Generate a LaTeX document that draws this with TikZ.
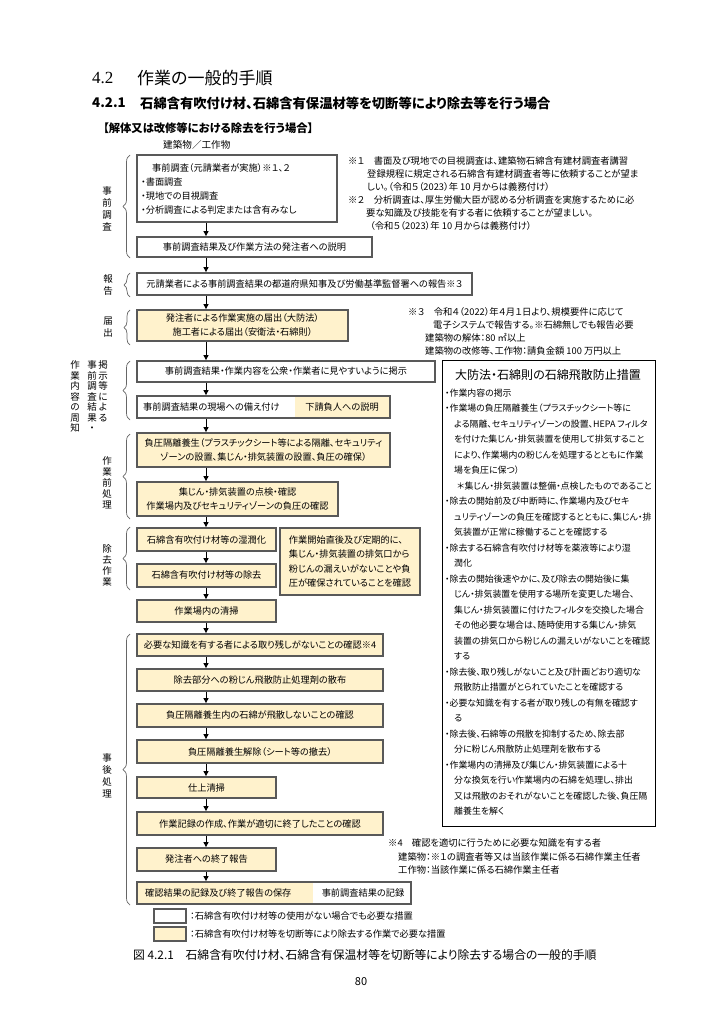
\documentclass[tikz,border=0pt]{standalone}
\usepackage{fontspec}
\setmainfont{Noto Sans CJK JP}[RawFeature=+palt]
\newfontfamily\serifnum{Liberation Serif}
\usetikzlibrary{arrows.meta,decorations.pathreplacing}
\definecolor{yfill}{RGB}{255,242,204}
\definecolor{bord}{RGB}{89,89,89}
\newcommand\bx[7]{\pgfmathsetmacro\bxw{#5-#3}\pgfmathsetmacro\bxh{#6-#4}%
  \node[#2, minimum width=\bxw pt, minimum height=\bxh pt] (#1) at ({(#3+#5)/2},{(#4+#6)/2}) {#7};}
\begin{document}
\begin{tikzpicture}[x=1pt,y=-1pt,font=\fontsize{9.2}{12}\selectfont,
  box/.style={draw=bord, line width=1.8pt, inner sep=0pt, align=center, fill=white, font=\fontsize{9.2}{14}\selectfont},
  ybox/.style={box, fill=yfill},
  obox/.style={draw=bord, line width=1.8pt, inner sep=0pt},
  arr/.style={-{Triangle[length=5pt,width=5pt]}, line width=0.9pt},
  brc/.style={decorate, decoration={brace, amplitude=#1}, draw=black!60, line width=0.7pt},
  brc/.default=7pt,
  lbl/.style={inner sep=0pt, align=center, font=\fontsize{9.5}{12}\selectfont},
  lbs/.style={inner sep=0pt, align=center, font=\fontsize{9.5}{10.5}\selectfont},
  t/.style={inner sep=0pt, anchor=west},
  fn/.style={t, font=\fontsize{9.3}{12}\selectfont}]
\useasboundingbox (0,0) rectangle (724,1024);
\fill[white] (0,0) rectangle (724,1024);
% headings
\node[t, font=\fontsize{17}{17}\selectfont] (h1n) at (92,78) {\serifnum 4.2};
\node[t, font=\fontsize{17}{17}\selectfont] (h1) at (137,78) {作業の一般的手順};
\node[t, font=\bfseries\fontsize{13.3}{13}\selectfont] (h2n) at (92,103) {4.2.1};
\node[t, font=\bfseries\fontsize{13.3}{13}\selectfont] (h2) at (140,103) {石綿含有吹付け材、石綿含有保温材等を切断等により除去等を行う場合};
\node[t, font=\bfseries\fontsize{11.3}{12}\selectfont] (h3) at (103,128) {【解体又は改修等における除去を行う場合】};
\node[t, font=\fontsize{9.6}{12}\selectfont] (top) at (163,145) {建築物／工作物};
\coordinate (ax) at (206,0);
% boxes
\bx{b1}{box}{137}{155}{337}{222}{}
\node[t] (b1a) at (152,168) {事前調査（元請業者が実施）※１、２};
\node[t] (b1b) at (141,182) {・書面調査};
\node[t] (b1c) at (141,196) {・現地での目視調査};
\node[t] (b1d) at (141,210.5) {・分析調査による判定または含有みなし};
\bx{b2}{box}{137}{237}{372}{257}{事前調査結果及び作業方法の発注者への説明}
\bx{b3}{box}{137}{273}{472}{295}{元請業者による事前調査結果の都道府県知事及び労働基準監督署への報告※３}
\bx{b4}{ybox}{137}{310}{348}{341}{発注者による作業実施の届出（大防法）\\施工者による届出（安衛法・石綿則）}
\bx{b5}{box}{137}{361}{435}{382}{事前調査結果・作業内容を公衆・作業者に見やすいように掲示}
\fill[white] (137,396) rectangle (295,418);
\fill[yfill] (295,396) rectangle (390,418);
\bx{b6}{obox}{137}{396}{390}{418}{}
\node[t] (b6a) at (143,407) {事前調査結果の現場への備え付け};
\node[inner sep=0pt] (b6b) at (342,407) {下請負人への説明};
\bx{b7}{ybox}{137}{433}{390}{467}{負圧隔離養生（プラスチックシート等による隔離、セキュリティ\\ゾーンの設置、集じん・排気装置の設置、負圧の確保）}
\bx{b8}{ybox}{137}{482}{338}{516}{集じん・排気装置の点検・確認\\作業場内及びセキュリティゾーンの負圧の確認}
\bx{b9}{ybox}{137}{528}{276}{551}{石綿含有吹付け材等の湿潤化}
\bx{b10}{ybox}{137}{564}{276}{587}{石綿含有吹付け材等の除去}
\bx{bs}{ybox, align=left, font=\fontsize{9.2}{14.5}\selectfont}{280}{528}{420}{595}{作業開始直後及び定期的に、\\集じん・排気装置の排気口から\\粉じんの漏えいがないことや負\\圧が確保されていることを確認}
\bx{b11}{ybox}{137}{600}{276}{622}{作業場内の清掃}
\bx{b12}{ybox}{137}{634}{383}{656}{必要な知識を有する者による取り残しがないことの確認※4}
\bx{b13}{ybox}{137}{669}{383}{691}{除去部分への粉じん飛散防止処理剤の散布}
\bx{b14}{ybox}{137}{704}{383}{727}{負圧隔離養生内の石綿が飛散しないことの確認}
\bx{b15}{ybox}{137}{740}{383}{763}{負圧隔離養生解除（シート等の撤去）}
\bx{b16}{ybox}{137}{777}{276}{798}{仕上清掃}
\bx{b17}{ybox}{137}{812}{383}{835}{作業記録の作成、作業が適切に終了したことの確認}
\bx{b18}{ybox}{137}{848}{276}{871}{発注者への終了報告}
\fill[yfill] (137,882) rectangle (313,904);
\fill[white] (313,882) rectangle (411,904);
\bx{b19}{obox}{137}{882}{411}{904}{}
\node[t] (b19a) at (145,893) {確認結果の記録及び終了報告の保存};
\node[inner sep=0pt] (b19b) at (363,893) {事前調査結果の記録};
% arrows
\foreach \a/\b in {b1/b2,b2/b3,b3/b4,b4/b5,b5/b6,b6/b7,b7/b8,b8/b9,b9/b10,b10/b11,b11/b12,b12/b13,b13/b14,b14/b15,b15/b16,b16/b17,b17/b18,b18/b19}
  \draw[arr] (\a.south -| ax) -- (\b.north -| ax);
% braces and labels
\draw[brc] (130,258) -- (130,155);
\node[lbl] (l1) at (107,209) {事\\前\\調\\査};
\draw[brc=6pt] (130,297) -- (130,273);
\node[lbl] (l2) at (108,285) {報\\告};
\draw[brc=6pt] (130,345) -- (130,310);
\node[lbl] (l3) at (108,327) {届\\出};
\draw[brc] (130,420) -- (130,361);
\node[lbs] (l4a) at (103,391) {掲\\示\\等\\に\\よ\\る};
\node[lbs] (l4b) at (92,396.5) {事\\前\\調\\査\\結\\果\\・};
\node[lbs] (l4c) at (75,396.5) {作\\業\\内\\容\\の\\周\\知};
\draw[brc] (130,519) -- (130,434);
\node[lbs, font=\fontsize{9.5}{11}\selectfont] (l5) at (107,483) {作\\業\\前\\処\\理};
\draw[brc] (130,590) -- (130,527);
\node[lbs, font=\fontsize{9.5}{11}\selectfont] (l6) at (107,565) {除\\去\\作\\業};
\draw[brc] (130,905) -- (130,634);
\node[lbl] (l7) at (107,776) {事\\後\\処\\理};
% footnotes
\node[fn] (n1a) at (348,161) {※１　書面及び現地での目視調査は、建築物石綿含有建材調査者講習};
\node[fn] (n1b) at (367,173.5) {登録規程に規定される石綿含有建材調査者等に依頼することが望ま};
\node[fn] (n1c) at (367,186.5) {しい。（令和５（2023）年 10 月からは義務付け）};
\node[fn] (n2a) at (348,199.5) {※２　分析調査は、厚生労働大臣が認める分析調査を実施するために必};
\node[fn] (n2b) at (366,212.5) {要な知識及び技能を有する者に依頼することが望ましい。};
\node[fn] (n2c) at (370,226) {（令和５（2023）年 10 月からは義務付け）};
\node[fn] (n3a) at (408,312) {※３　令和４（2022）年４月１日より、規模要件に応じて};
\node[fn] (n3b) at (433,325) {電子システムで報告する。※石綿無しでも報告必要};
\node[fn] (n3c) at (425,338) {建築物の解体：80 ㎡以上};
\node[fn] (n3d) at (425,351) {建築物の改修等、工作物：請負金額 100 万円以上};
\node[fn] (n4a) at (388,843) {※4　確認を適切に行うために必要な知識を有する者};
\node[fn] (n4b) at (398,857) {建築物：※１の調査者等又は当該作業に係る石綿作業主任者};
\node[fn] (n4c) at (398,870) {工作物：当該作業に係る石綿作業主任者};
% right box
\bx{rb}{draw=black, line width=0.8pt, inner sep=0pt}{442}{360}{655}{826}{}
\node[inner sep=0pt, font=\fontsize{12}{12}\selectfont] (rbt) at (548,375) {大防法・石綿則の石綿飛散防止措置};
\foreach \dx/\tx [count=\i from 0] in {
 0/・作業内容の掲示,
 0/・作業場の負圧隔離養生（プラスチックシート等に,
 9/よる隔離、セキュリティゾーンの設置、HEPA フィルタ,
 9/を付けた集じん・排気装置を使用して排気すること,
 9/により、作業場内の粉じんを処理するとともに作業,
 9/場を負圧に保つ）,
 12/＊集じん・排気装置は整備・点検したものであること,
 0/・除去の開始前及び中断時に、作業場内及びセキ,
 9/ュリティゾーンの負圧を確認するとともに、集じん・排,
 9/気装置が正常に稼働することを確認する,
 0/・除去する石綿含有吹付け材等を薬液等により湿,
 9/潤化,
 0/・除去の開始後速やかに、及び除去の開始後に集,
 9/じん・排気装置を使用する場所を変更した場合、,
 9/集じん・排気装置に付けたフィルタを交換した場合,
 9/その他必要な場合は、随時使用する集じん・排気,
 9/装置の排気口から粉じんの漏えいがないことを確認,
 9/する,
 0/・除去後、取り残しがないこと及び計画どおり適切な,
 9/飛散防止措置がとられていたことを確認する,
 0/・必要な知識を有する者が取り残しの有無を確認す,
 9/る,
 0/・除去後、石綿等の飛散を抑制するため、除去部,
 9/分に粉じん飛散防止処理剤を散布する,
 0/・作業場内の清掃及び集じん・排気装置による十,
 9/分な換気を行い作業場内の石綿を処理し、排出,
 9/又は飛散のおそれがないことを確認した後、負圧隔,
 9/離養生を解く}
  \node[t, font=\fontsize{8.9}{12}\selectfont] at ({445+\dx},{393+\i*15.5}) {\tx};
% legend
\bx{lw}{box}{154}{909}{186}{923}{}
\bx{ly}{ybox}{154}{927}{186}{941}{}
\node[t] (lwt) at (190,916) {：石綿含有吹付け材等の使用がない場合でも必要な措置};
\node[t] (lyt) at (190,934) {：石綿含有吹付け材等を切断等により除去する作業で必要な措置};
% caption
\node[t, font=\fontsize{11.8}{12}\selectfont] (cap) at (133,955) {図 4.2.1　石綿含有吹付け材、石綿含有保温材等を切断等により除去する場合の一般的手順};
\node[inner sep=0pt, font=\fontsize{11}{12}\selectfont] (pg) at (361,982) {80};
\end{tikzpicture}
\end{document}
